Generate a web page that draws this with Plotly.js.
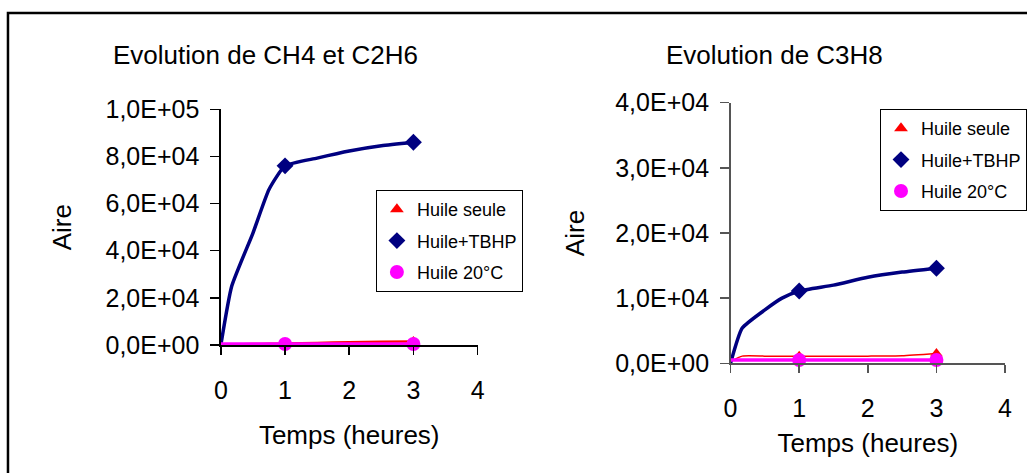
<!DOCTYPE html>
<html>
<head>
<meta charset="utf-8">
<script src="https://cdn.plot.ly/plotly-3.0.1.min.js"></script>
<style>
  html, body { margin: 0; padding: 0; background: #fff; }
  #chart { width: 1027px; height: 473px; }
</style>
</head>
<body>
<div id="chart"></div>
<script>
// ---- data ----
const time = [0, 0.17, 0.5, 0.75, 1, 1.5, 2, 2.5, 3];       // hours
const markedTimes = [1, 3];                                 // times carrying a marker
const seriesNames = ["Huile seule", "Huile+TBHP", "Huile 20°C"];

// Left chart : CH4 et C2H6
const ch4Seule = [0, 200, 400, 500, 600, 900, 1200, 1400, 1500];
const ch4Tbhp  = [0, 25000, 47500, 66000, 76000, 79300, 82300, 84500, 86000];
const ch4H20   = [400, 400, 400, 400, 400, 400, 400, 400, 400];

// Right chart : C3H8
const c3Seule = [300, 1100, 1100, 1100, 1100, 1100, 1100, 1150, 1500];
const c3Tbhp  = [0, 5400, 8200, 10000, 11100, 12000, 13200, 14000, 14600];
const c3H20   = [500, 500, 500, 500, 500, 500, 500, 500, 500];

const leftTicksY  = [0, 20000, 40000, 60000, 80000, 100000];
const leftTickTxt = ["0,0E+00", "2,0E+04", "4,0E+04", "6,0E+04", "8,0E+04", "1,0E+05"];
const rightTicksY  = [0, 10000, 20000, 30000, 40000];
const rightTickTxt = ["0,0E+00", "1,0E+04", "2,0E+04", "3,0E+04", "4,0E+04"];
const xTicks = [0, 1, 2, 3, 4];

// ---- styles ----
const FONT = "Liberation Sans, Arial, sans-serif";
const colors = ["#FF0000", "#000080", "#FF00FF"];
const symbols = ["triangle-up", "diamond", "circle"];
const mSize = [11, 13, 14];

function markerSizes(base) {
  return time.map(t => markedTimes.includes(t) ? base : 0);
}

const traces = [];
function addSeries(values, idx, xa, ya, lineWidth) {
  traces.push({
    x: time, y: values, xaxis: xa, yaxis: ya,
    type: "scatter", mode: "lines+markers",
    line: { color: colors[idx], width: lineWidth, shape: "spline", smoothing: 0.5 },
    marker: { color: colors[idx], symbol: symbols[idx], size: markerSizes(mSize[idx]),
              opacity: 1, line: { width: 0 } },
    showlegend: false, hoverinfo: "skip", cliponaxis: false
  });
}
addSeries(ch4Seule, 0, "x", "y", 2.5);
addSeries(ch4Tbhp, 1, "x", "y", 3.5);
addSeries(ch4H20, 2, "x", "y", 3.5);
addSeries(c3Seule, 0, "x2", "y2", 1.5);
addSeries(c3Tbhp, 1, "x2", "y2", 3.5);
addSeries(c3H20, 2, "x2", "y2", 3.5);

// legend-only entries (marker symbols only, as in the reference)
["legend", "legend2"].forEach((lg, li) => {
  seriesNames.forEach((nm, i) => {
    traces.push({
      x: [null], y: [null], xaxis: li === 0 ? "x" : "x2", yaxis: li === 0 ? "y" : "y2",
      type: "scatter", mode: "markers", name: nm,
      legend: lg, legendgroup: lg + i,
      marker: { color: colors[i], symbol: symbols[i], size: [12, 13, 14][i], opacity: 1 },
      showlegend: true, hoverinfo: "skip"
    });
  });
});

const W = 1027, H = 473;
const px = v => v / W;
const py = v => 1 - v / H;

function xAxis(domain, lineColor, titleStandoff) {
  return {
    domain: domain, range: [0, 4], tickvals: xTicks, ticktext: xTicks.map(String),
    showgrid: false, zeroline: false, showline: true, linecolor: lineColor, linewidth: 1.5,
    ticks: "outside", ticklen: 8, tickcolor: lineColor, tickwidth: 1.5,
    tickfont: { family: FONT, size: 25, color: "#000" }, ticklabelstandoff: 14,
    title: { text: "Temps (heures)", font: { family: FONT, size: 26, color: "#000" }, standoff: titleStandoff },
    fixedrange: true
  };
}
function yAxis(domain, range, tv, tt, lineColor, titleStandoff) {
  return {
    domain: domain, range: range, tickvals: tv, ticktext: tt,
    showgrid: false, zeroline: false, showline: true, linecolor: lineColor, linewidth: 1.5,
    ticks: "outside", ticklen: 9, tickcolor: lineColor, tickwidth: 1.5,
    tickfont: { family: FONT, size: 25, color: "#000" }, ticklabelstandoff: 6,
    title: { text: "Aire", font: { family: FONT, size: 26, color: "#000" }, standoff: titleStandoff },
    fixedrange: true
  };
}

const legendStyle = (x, y) => ({
  x: x, y: y, xanchor: "left", yanchor: "top", xref: "paper", yref: "paper",
  bgcolor: "#fff", bordercolor: "#000", borderwidth: 1,
  font: { family: FONT, size: 18, color: "#000" },
  tracegroupgap: 5, itemclick: false, itemdoubleclick: false
});

const layout = {
  width: W, height: H,
  margin: { l: 0, r: 0, t: 0, b: 0 },
  paper_bgcolor: "#fff", plot_bgcolor: "rgba(0,0,0,0)",
  font: { family: FONT, color: "#000" },
  xaxis: Object.assign(xAxis([px(221.5), px(479)], "#000", 23), { anchor: "y" }),
  yaxis: Object.assign(yAxis([py(345), py(109.3)], [0, 100000], leftTicksY, leftTickTxt, "#000", 26), { anchor: "x" }),
  xaxis2: Object.assign(xAxis([px(732.7), px(1008)], "#555", 13), { anchor: "y2" }),
  yaxis2: Object.assign(yAxis([py(363.3), py(102.7)], [0, 40000], rightTicksY, rightTickTxt, "#555", 23), { anchor: "x2" }),
  legend: legendStyle(px(377), py(190)),
  legend2: legendStyle(px(883), py(109)),
  annotations: [
    { text: "Evolution de CH4 et C2H6", xref: "paper", yref: "paper", x: px(266), y: py(55),
      xanchor: "center", yanchor: "middle", showarrow: false, font: { family: FONT, size: 26, color: "#000" } },
    { text: "Evolution de C3H8", xref: "paper", yref: "paper", x: px(777), y: py(55),
      xanchor: "center", yanchor: "middle", showarrow: false, font: { family: FONT, size: 26, color: "#000" } }
  ],
  shapes: [
    { type: "rect", xref: "paper", yref: "paper", x0: px(8), x1: 1.02, y0: -0.05, y1: py(13),
      line: { color: "#000", width: 2.5 }, fillcolor: "rgba(0,0,0,0)" }
  ]
};

Plotly.newPlot("chart", traces, layout, { displayModeBar: false, staticPlot: true });
</script>
</body>
</html>
